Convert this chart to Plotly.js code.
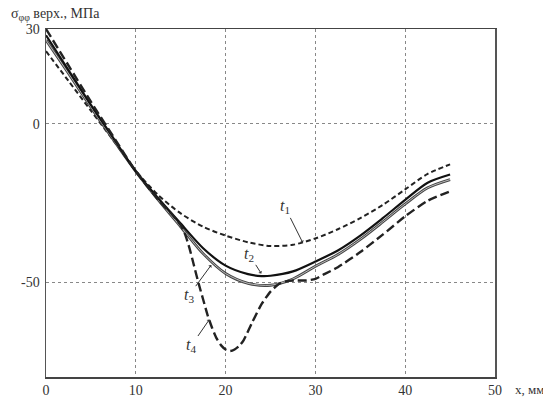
<!DOCTYPE html>
<html>
<head>
<meta charset="utf-8">
<script src="https://cdn.plot.ly/plotly-3.0.1.min.js"></script>
<style>html,body{margin:0;padding:0;background:#fff;}#chart{width:543px;height:397px;}</style>
</head>
<body>
<div id="chart"></div>
<script>
// x, мм
const x1 = [0, 2.5, 5, 7.5, 10, 12.5, 15, 17.5, 20, 22.5, 25, 27.5, 30, 32.5, 35, 37.5, 40, 42.5, 45];
const t1 = [23, 13.6, 4.2, -5.2, -14.8, -22.5, -28.3, -32.5, -35.3, -37.4, -38.6, -38.2, -36.2, -33.3, -29.8, -25.6, -20.7, -15.8, -12.8];

const x2 = [0, 2.5, 5, 7.5, 10, 12.5, 15, 17.5, 20, 22.5, 24, 25, 27.5, 30, 32.5, 35, 37.5, 40, 42.5, 45];
const t2 = [28, 17, 6, -4.5, -15, -23.5, -31.5, -39.3, -44.8, -47.5, -48.1, -48, -46.6, -43.5, -40, -35.3, -29.8, -24, -18.6, -16];

const x3 = [0, 2.5, 5, 7.5, 10, 12.5, 15, 17.5, 20, 22.5, 25, 27.5, 30, 32.5, 35, 37.5, 40, 42.5, 45];
const t3 = [26.5, 16, 5.3, -5, -15, -24, -32.5, -41, -47.3, -50.4, -51, -49, -45, -41.3, -36.5, -31, -25.3, -20.2, -17.6];

const x4 = [0, 2.5, 5, 7.5, 10, 12.5, 14, 15, 15.5, 16, 16.5, 17, 17.5, 18, 18.5, 19, 19.5, 20, 20.5, 21, 21.5, 22, 23, 24, 25, 26, 27, 28, 29, 30, 31, 32.5, 35, 37.5, 40, 42.5, 45];
const t4 = [30, 18.5, 7, -4, -15, -24, -28.5, -32, -35, -39.5, -45, -50.5, -55.5, -60.5, -64.5, -67.8, -70, -71.3, -71.8, -71.3, -70.2, -68.4, -62.5, -57, -53, -50.5, -49.6, -49.5, -49.5, -49, -47.5, -45.3, -40.5, -35, -29.2, -24.3, -21.3];

const xTicks = [0, 10, 20, 30, 40, 50];
const yTicks = [-50, 0, 30];
const yTickText = ["-50", "0", "30"];

const FONT = "Liberation Serif";

const traces = [
  {x: x1, y: t1, mode: "lines", line: {color: "#222", width: 2, dash: "5px,3px", shape: "spline", smoothing: 0.8}},
  {x: x3, y: t3, mode: "lines", line: {color: "#444", width: 2.8, shape: "spline", smoothing: 0.8}},
  {x: x3, y: t3, mode: "lines", line: {color: "#c8c8c8", width: 0.9, shape: "spline", smoothing: 0.8}},
  {x: x2, y: t2, mode: "lines", line: {color: "#111", width: 2.2, shape: "spline", smoothing: 0.8}},
  {x: x4, y: t4, mode: "lines", line: {color: "#222", width: 2.4, dash: "9px,4px", shape: "spline", smoothing: 0.6}}
];

function lab(n, x, y, ax, ay) {
  return {x: x, y: y, xref: "x", yref: "y", text: "<i>t</i><sub>" + n + "</sub>",
    showarrow: true, arrowhead: 1, arrowsize: 0.7, arrowwidth: 1, arrowcolor: "#333",
    ax: ax, ay: ay, standoff: 0, font: {family: FONT, size: 16, color: "#333"}};
}

const layout = {
  width: 543, height: 397,
  margin: {l: 46, r: 48, t: 29, b: 20},
  paper_bgcolor: "#fff", plot_bgcolor: "#fff",
  showlegend: false,
  font: {family: FONT, size: 14, color: "#333"},
  xaxis: {
    range: [0, 50], tickvals: xTicks, ticks: "", showgrid: true,
    gridcolor: "#888", griddash: "dot", gridwidth: 1,
    showline: true, mirror: true, linecolor: "#444", linewidth: 1.5,
    zeroline: false, ticklabelstandoff: 0,
    tickfont: {family: FONT, size: 14, color: "#333"}
  },
  yaxis: {
    range: [-80, 30], tickvals: yTicks, ticktext: yTickText, ticks: "", showgrid: true,
    gridcolor: "#888", griddash: "dot", gridwidth: 1,
    showline: true, mirror: true, linecolor: "#555", linewidth: 1.5,
    zeroline: false, ticklabelstandoff: 2,
    tickfont: {family: FONT, size: 14, color: "#333"}
  },
  annotations: [
    {xref: "paper", yref: "paper", x: -0.082, y: 1.042, xanchor: "left", yanchor: "middle",
     text: "σ<sub>φφ</sub> верх., МПа", showarrow: false, font: {family: FONT, size: 14, color: "#333"}},
    {xref: "paper", yref: "paper", x: 1.04, y: -0.035, xanchor: "left", yanchor: "middle",
     text: "x, мм", showarrow: false, font: {family: FONT, size: 13, color: "#333"}},
    lab(1, 28.6, -37.6, -18, -36),
    lab(2, 23.97, -47.3, -12, -19),
    lab(3, 18.4, -44.6, -22, 30),
    lab(4, 18.2, -61.8, -18, 26)
  ]
};

Plotly.newPlot("chart", traces, layout, {staticPlot: true, displayModeBar: false});
</script>
</body>
</html>
